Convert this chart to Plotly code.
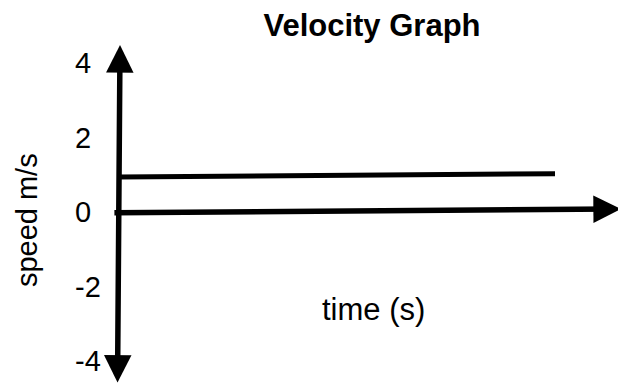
import plotly.graph_objects as go

# y-axis ticks
speed_ticks = [4, 2, 0, -2, -4]
speed_tick_labels = ["4", "2", "0", "-2", "-4"]

# velocity line (time, speed)
time_s = [0, 10]
speed_ms = [0.94, 1.03]

# axis arrows: (start, end) in data units
y_axis_x = [-0.034, 0.023]
y_axis_y = [-4.62, 4.48]
x_axis_x = [-0.14, 11.51]
x_axis_y = [-0.02, 0.08]

FONT = "Liberation Sans, Arial, Helvetica, sans-serif"

fig = go.Figure()

fig.add_trace(go.Scatter(
    x=time_s,
    y=speed_ms,
    mode='lines',
    line=dict(color='black', width=5),
    showlegend=False,
    hoverinfo='skip'
))

# vertical axis, arrow at both ends
fig.add_annotation(
    x=y_axis_x[1], y=y_axis_y[1], ax=y_axis_x[0], ay=y_axis_y[0],
    xref='x', yref='y', axref='x', ayref='y',
    text='', showarrow=True, arrowside='end+start',
    arrowhead=2, startarrowhead=2, arrowsize=1, startarrowsize=1,
    arrowwidth=5.5, arrowcolor='black'
)

# horizontal axis, arrow at the right end
fig.add_annotation(
    x=x_axis_x[1], y=x_axis_y[1], ax=x_axis_x[0], ay=x_axis_y[0],
    xref='x', yref='y', axref='x', ayref='y',
    text='', showarrow=True, arrowhead=2, arrowsize=1,
    arrowwidth=5.5, arrowcolor='black'
)

fig.add_annotation(
    x=5.83, y=-2.63, xref='x', yref='y',
    text='time (s)', showarrow=False,
    font=dict(family=FONT, size=31, color='black')
)

fig.add_annotation(
    x=-0.0812, y=0.478, xref='paper', yref='paper',
    xanchor='center', yanchor='middle',
    text='speed m/s', textangle=-90, showarrow=False,
    font=dict(family=FONT, size=29, color='black')
)

# page body has an 8px margin, so the figure is offset by 8px
fig.update_layout(
    width=618,
    height=377,
    margin=dict(l=64, r=0, t=32, b=0),
    paper_bgcolor='white',
    plot_bgcolor='white',
    title=dict(
        text='<b>Velocity Graph</b>',
        x=0.5415, xref='paper', xanchor='center',
        y=0.955, yref='container', yanchor='middle',
        font=dict(family=FONT, size=31, color='black')
    ),
    xaxis=dict(
        range=[-1.078, 11.628],
        visible=False
    ),
    yaxis=dict(
        range=[-4.644, 4.617],
        tickvals=speed_ticks,
        ticktext=speed_tick_labels,
        ticklabelposition='inside',
        ticks='',
        showgrid=False,
        zeroline=False,
        showline=False,
        tickfont=dict(family=FONT, size=29, color='black')
    ),
    showlegend=False
)

fig.write_html("out.html")
